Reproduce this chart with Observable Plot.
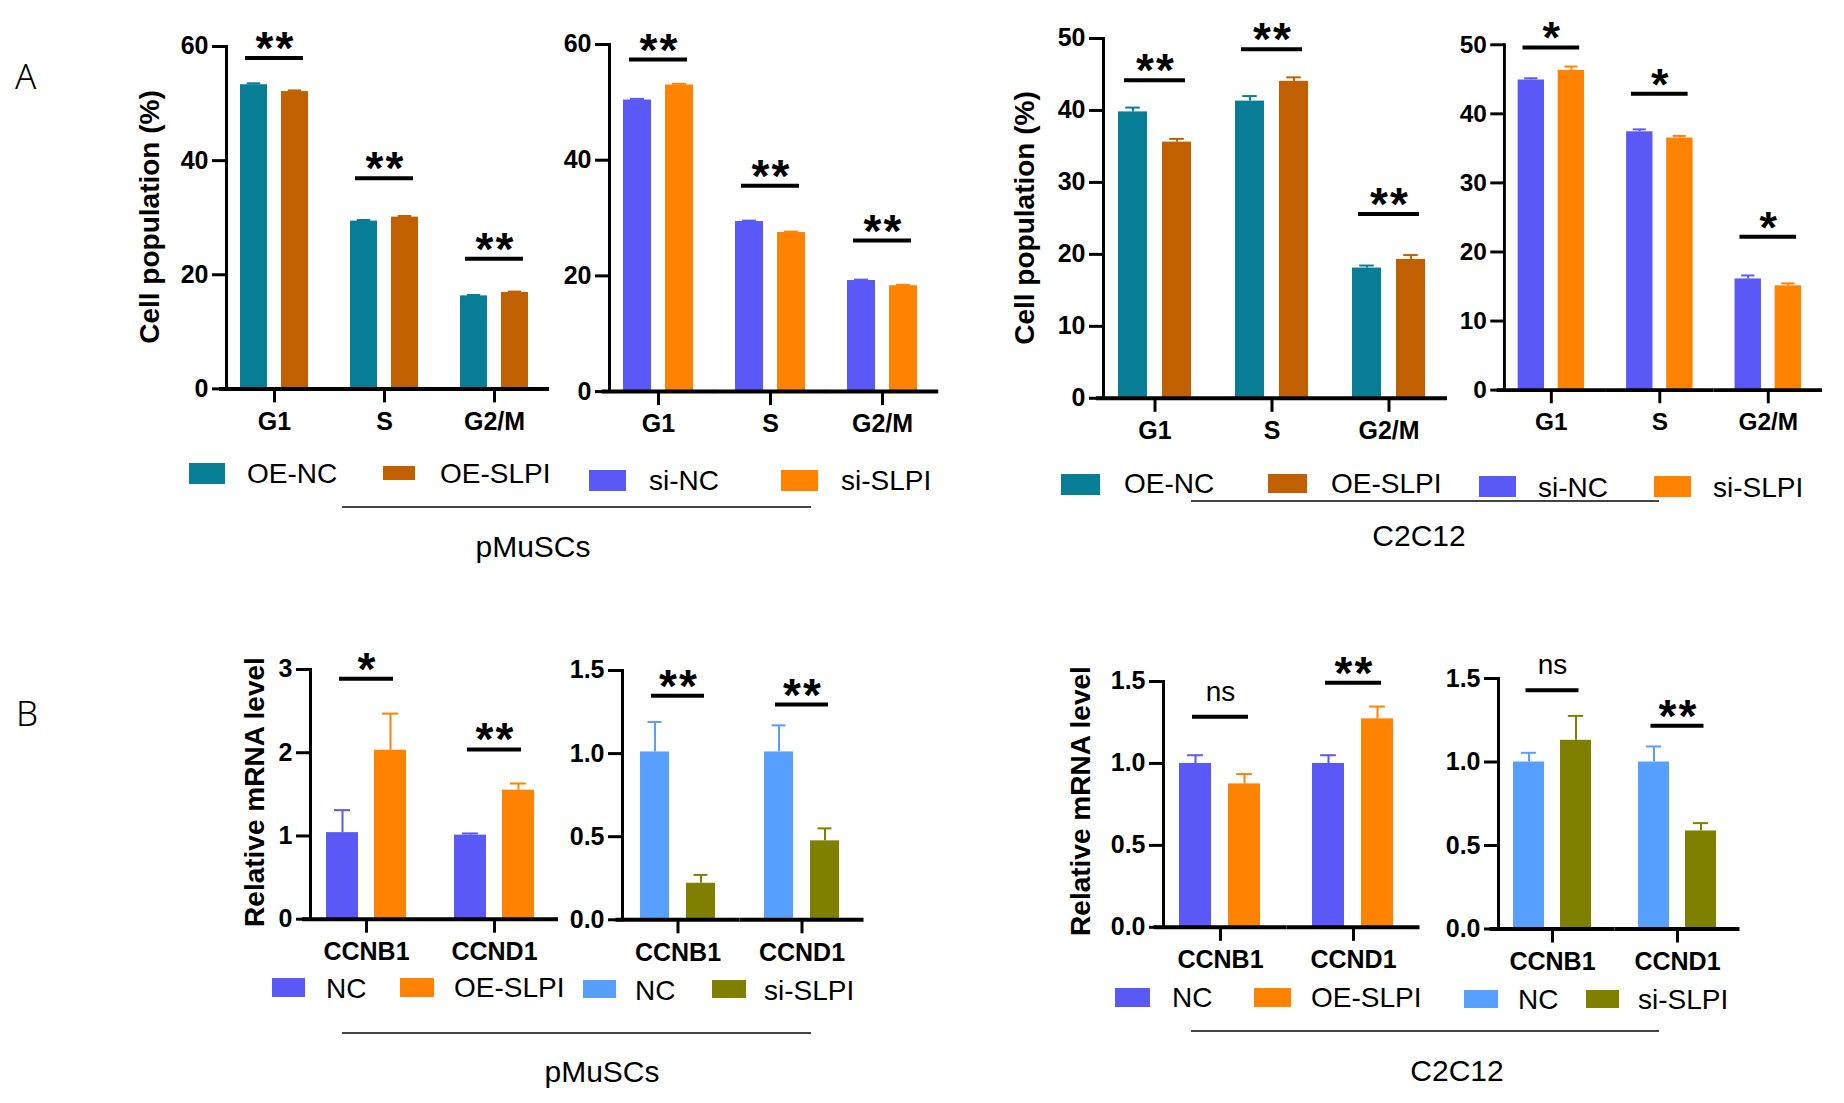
<!DOCTYPE html>
<html><head><meta charset="utf-8">
<script src="https://cdn.jsdelivr.net/npm/d3@7"></script>
<script src="https://cdn.jsdelivr.net/npm/@observablehq/plot@0.6"></script>
<style>
html,body{margin:0;padding:0;background:#fff;}
#fig{position:relative;width:1844px;height:1103px;overflow:hidden;background:#fff;font-family:"Liberation Sans",Arial,sans-serif;color:#000;}
.panel{position:absolute;}
.panel svg{overflow:visible;}
.panel svg g[aria-label="y-axis tick"] path,
.panel svg g[aria-label="fx-axis tick"] path{stroke-width:3px;}
.panel svg g[font-size="46"] text{letter-spacing:2px;}
.ylab{position:absolute;font-weight:bold;font-size:28px;white-space:nowrap;transform:translate(-50%,-50%) rotate(-90deg);}
.sw{position:absolute;}
.lt{position:absolute;font-size:28px;white-space:nowrap;transform:translateY(-50%);line-height:1;}
.ul{position:absolute;height:1.5px;background:#444;}
.grp{position:absolute;font-size:30px;transform:translate(-50%,-50%);white-space:nowrap;line-height:1;}
.letter{position:absolute;font-family:"Noto Sans","Open Sans",sans-serif;font-weight:300;font-size:35px;line-height:1;}
</style></head>
<body><div id="fig"></div>
<script>
// ---------- categories ----------
const phases = ["G1", "S", "G2/M"];
const genes = ["CCNB1", "CCND1"];
const oeGroups = ["OE-NC", "OE-SLPI"];
const siGroups = ["si-NC", "si-SLPI"];
const qOeGroups = ["NC", "OE-SLPI"];
const qSiGroups = ["NC", "si-SLPI"];

// ---------- A: cell population (%) ----------
// pMuSCs, overexpression
const a1NC = [53.3, 29.4, 16.3];
const a1NCErr = [0.25, 0.2, 0.15];
const a1SLPI = [52.1, 30.1, 16.9];
const a1SLPIErr = [0.2, 0.2, 0.15];
const a1SigY = [58.0, 36.9, 22.8];
const a1Sig = ["**", "**", "**"];
// pMuSCs, knockdown
const a2NC = [50.4, 29.4, 19.2];
const a2NCErr = [0.2, 0.15, 0.15];
const a2SLPI = [53.0, 27.5, 18.3];
const a2SLPIErr = [0.2, 0.15, 0.15];
const a2SigY = [57.4, 35.6, 26.1];
const a2Sig = ["**", "**", "**"];
// C2C12, overexpression
const a3NC = [39.8, 41.3, 18.1];
const a3NCErr = [0.6, 0.7, 0.35];
const a3SLPI = [35.6, 44.05, 19.3];
const a3SLPIErr = [0.45, 0.55, 0.6];
const a3SigY = [44.2, 48.5, 25.6];
const a3Sig = ["**", "**", "**"];
// C2C12, knockdown
const a4NC = [44.9, 37.4, 16.1];
const a4NCErr = [0.25, 0.35, 0.5];
const a4SLPI = [46.3, 36.5, 15.1];
const a4SLPIErr = [0.55, 0.3, 0.35];
const a4SigY = [49.6, 42.9, 22.2];
const a4Sig = ["*", "*", "*"];

// ---------- B: relative mRNA level ----------
const b1NC = [1.04, 1.01];
const b1NCErr = [0.27, 0.02];
const b1SLPI = [2.03, 1.55];
const b1SLPIErr = [0.44, 0.08];
const b1SigY = [2.89, 2.04];
const b1Sig = ["*", "**"];

const b2NC = [1.01, 1.01];
const b2NCErr = [0.18, 0.16];
const b2SLPI = [0.22, 0.475];
const b2SLPIErr = [0.05, 0.075];
const b2SigY = [1.348, 1.295];
const b2Sig = ["**", "**"];

const b3NC = [1.0, 1.0];
const b3NCErr = [0.05, 0.05];
const b3SLPI = [0.875, 1.272];
const b3SLPIErr = [0.06, 0.075];
const b3SigY = [1.285, 1.493];
const b3Sig = ["ns", "**"];

const b4NC = [1.0, 1.0];
const b4NCErr = [0.055, 0.093];
const b4SLPI = [1.13, 0.587];
const b4SLPIErr = [0.146, 0.047];
const b4SigY = [1.43, 1.217];
const b4Sig = ["ns", "**"];

// ---------- tick labels ----------
const ticksA12 = [0, 20, 40, 60];
const ticksA34 = [0, 10, 20, 30, 40, 50];
const ticksB1 = [0, 1, 2, 3];
const ticksB234 = [0, 0.5, 1.0, 1.5];

// ---------- colours ----------
const cTeal = "#077E96", cBrown = "#C06000", cBlue = "#5A58F6",
      cOrange = "#FF8200", cLight = "#57A0FF", cOlive = "#808000";

const fig = document.getElementById("fig");

function panel(p) {
  const mL = 90, mR = 30, mT = 75, mB = 70;
  const n = p.cats.length;
  const inner = (n - 1) * p.step + p.w;
  const width = mL + inner + mR;
  const height = mT + (p.y0 - p.yTop) + mB;
  const gap = p.step - p.w;
  const pi = 1 - p.bw / p.d;
  const po = (p.w / p.d - 2 + pi) / 2;
  const data = [];
  p.groups.forEach((g, gi) => p.cats.forEach((c, ci) =>
    data.push({cat: c, group: g, value: p.values[gi][ci], err: p.errs[gi][ci]})));
  const sig = p.cats.map((c, i) => ({cat: c, y: p.sigY[i], label: p.sig[i]}));
  const chart = Plot.plot({
    width, height, marginLeft: mL, marginRight: mR, marginTop: mT, marginBottom: mB,
    style: {background: "transparent", overflow: "visible", fontFamily: "Liberation Sans, Arial, sans-serif", color: "#000"},
    fx: {domain: p.cats, paddingInner: gap / p.step, paddingOuter: 0, label: null, axis: null},
    x: {domain: p.groups, paddingInner: pi, paddingOuter: po, axis: null},
    y: {domain: p.yDomain, axis: null},
    color: {domain: p.groups, range: p.colors},
    marks: [
      Plot.barY(data, {fx: "cat", x: "group", y: "value", fill: "group"}),
      Plot.ruleX(data, {fx: "cat", x: "group", y1: "value", y2: d => d.value + d.err, stroke: "group", strokeWidth: 2}),
      Plot.tickY(data, {fx: "cat", x: "group", y: d => d.value + d.err, stroke: "group", strokeWidth: 2, insetLeft: p.bw / 4, insetRight: p.bw / 4}),
      Plot.ruleY(sig, {fx: "cat", y: "y", strokeWidth: 4, insetLeft: (p.w - p.sigW) / 2, insetRight: (p.w - p.sigW) / 2}),
      Plot.text(sig.filter(s => s.label !== "ns"), {fx: "cat", y: "y", text: "label", fontSize: 46, fontWeight: "bold", lineAnchor: "bottom", dy: 6, dx: 1}),
      Plot.text(sig.filter(s => s.label === "ns"), {fx: "cat", y: "y", text: "label", fontSize: 28, lineAnchor: "bottom", dy: -16}),
      Plot.ruleY([p.yDomain[0]], {strokeWidth: 4, insetLeft: -gap / 2, insetRight: -gap / 2}),
      Plot.frame({anchor: "left", facetAnchor: "left", strokeWidth: 3}),
      Plot.axisY({ticks: p.ticks, tickFormat: p.fmt, tickSize: 14, tickPadding: 4, fontSize: 25, fontWeight: "bold", strokeWidth: 3, label: null}),
      Plot.axisFx({anchor: "bottom", tickSize: 14, tickPadding: 9, fontSize: 25, fontWeight: "bold", strokeWidth: 3, label: null})
    ]
  });
  const div = document.createElement("div");
  div.className = "panel";
  div.style.left = (p.x0 - mL) + "px";
  div.style.top = (p.yTop - mT) + "px";
  div.appendChild(chart);
  fig.appendChild(div);
}

const fmtInt = d3.format("d"), fmt1 = d3.format(".1f");

panel({cats: phases, groups: oeGroups, colors: [cTeal, cBrown], values: [a1NC, a1SLPI], errs: [a1NCErr, a1SLPIErr],
  sigY: a1SigY, sig: a1Sig, yDomain: [0, 60], ticks: ticksA12, fmt: fmtInt,
  x0: 226, yTop: 45.6, y0: 388, step: 110, w: 96, d: 41, bw: 27, sigW: 58});
panel({cats: phases, groups: siGroups, colors: [cBlue, cOrange], values: [a2NC, a2SLPI], errs: [a2NCErr, a2SLPIErr],
  sigY: a2SigY, sig: a2Sig, yDomain: [0, 60], ticks: ticksA12, fmt: fmtInt,
  x0: 608, yTop: 43.9, y0: 391, step: 112.5, w: 98, d: 42, bw: 28, sigW: 58});
panel({cats: phases, groups: oeGroups, colors: [cTeal, cBrown], values: [a3NC, a3SLPI], errs: [a3NCErr, a3SLPIErr],
  sigY: a3SigY, sig: a3Sig, yDomain: [0, 50], ticks: ticksA34, fmt: fmtInt,
  x0: 1102.5, yTop: 37.9, y0: 397.7, step: 117, w: 103, d: 44, bw: 29, sigW: 61});
panel({cats: phases, groups: siGroups, colors: [cBlue, cOrange], values: [a4NC, a4SLPI], errs: [a4NCErr, a4SLPIErr],
  sigY: a4SigY, sig: a4Sig, yDomain: [0, 50], ticks: ticksA34, fmt: fmtInt,
  x0: 1506, yTop: 45.6, y0: 399, step: 111, w: 96, d: 41, bw: 27, sigW: 58});

panel({cats: genes, groups: qOeGroups, colors: [cBlue, cOrange], values: [b1NC, b1SLPI], errs: [b1NCErr, b1SLPIErr],
  sigY: b1SigY, sig: b1Sig, yDomain: [0, 3], ticks: ticksB1, fmt: fmtInt,
  x0: 310, yTop: 668.9, y0: 918.6, step: 128, w: 112, d: 48, bw: 32, sigW: 54});
panel({cats: genes, groups: qSiGroups, colors: [cLight, cOlive], values: [b2NC, b2SLPI], errs: [b2NCErr, b2SLPIErr],
  sigY: b2SigY, sig: b2Sig, yDomain: [0, 1.5], ticks: ticksB234, fmt: fmt1,
  x0: 621.5, yTop: 670, y0: 919.3, step: 124, w: 111, d: 47, bw: 30, sigW: 53});
panel({cats: genes, groups: qOeGroups, colors: [cBlue, cOrange], values: [b3NC, b3SLPI], errs: [b3NCErr, b3SLPIErr],
  sigY: b3SigY, sig: b3Sig, yDomain: [0, 1.5], ticks: ticksB234, fmt: fmt1,
  x0: 1163, yTop: 680.5, y0: 926.3, step: 133, w: 114, d: 49.7, bw: 32.5, sigW: 56});
panel({cats: genes, groups: qSiGroups, colors: [cLight, cOlive], values: [b4NC, b4SLPI], errs: [b4NCErr, b4SLPIErr],
  sigY: b4SigY, sig: b4Sig, yDomain: [0, 1.5], ticks: ticksB234, fmt: fmt1,
  x0: 1498, yTop: 678, y0: 928.5, step: 125, w: 108, d: 47.5, bw: 31.5, sigW: 53});

// ---------- text decorations ----------
function el(cls, text, style) {
  const e = document.createElement("div");
  e.className = cls;
  if (text != null) e.textContent = text;
  Object.assign(e.style, style);
  fig.appendChild(e);
  return e;
}
// y axis titles
el("ylab", "Cell population (%)", {left: "150px", top: "217px"});
el("ylab", "Cell population (%)", {left: "1025px", top: "218px"});
el("ylab", "Relative mRNA level", {left: "255px", top: "792px"});
el("ylab", "Relative mRNA level", {left: "1081px", top: "801px"});
// panel letters
el("letter", "A", {left: "15px", top: "58px"});
el("letter", "B", {left: "16px", top: "695px"});

// legends: [label, colour, swatch x1, x2, y1, y2, text x, text centre y]
const legendLayout = [
  [oeGroups[0], cTeal, 189, 225, 463, 484, 247, 474],
  [oeGroups[1], cBrown, 383, 415, 466, 480, 440, 474],
  [siGroups[0], cBlue, 589, 626, 470, 491, 649, 481],
  [siGroups[1], cOrange, 781, 818, 470, 491, 841, 481],
  [oeGroups[0], cTeal, 1061, 1100, 474, 495, 1124, 484],
  [oeGroups[1], cBrown, 1268, 1307, 474, 493, 1331, 484],
  [siGroups[0], cBlue, 1479, 1516, 476, 497, 1538, 488],
  [siGroups[1], cOrange, 1654, 1691, 476, 497, 1713, 488],
  [qOeGroups[0], cBlue, 272, 305, 978, 997, 326, 989],
  [qOeGroups[1], cOrange, 400, 434, 978, 997, 454, 988],
  [qSiGroups[0], cLight, 583, 616, 980, 998, 635, 991],
  [qSiGroups[1], cOlive, 712, 746, 980, 998, 764, 991],
  [qOeGroups[0], cBlue, 1115, 1150, 988, 1007, 1172, 998],
  [qOeGroups[1], cOrange, 1254, 1291, 988, 1007, 1311, 998],
  [qSiGroups[0], cLight, 1464, 1498, 990, 1008, 1518, 1000],
  [qSiGroups[1], cOlive, 1586, 1619, 990, 1008, 1638, 1000]
];
legendLayout.forEach(([label, color, x1, x2, y1, y2, tx, ty]) => {
  el("sw", null, {left: x1 + "px", top: y1 + "px", width: (x2 - x1) + "px", height: (y2 - y1) + "px", background: color});
  el("lt", label, {left: tx + "px", top: ty + "px"});
});
// group underlines and names
el("ul", null, {left: "342px", top: "506px", width: "469px"});
el("ul", null, {left: "1191px", top: "500px", width: "468px"});
el("ul", null, {left: "342px", top: "1032px", width: "469px"});
el("ul", null, {left: "1191px", top: "1030px", width: "468px"});
el("grp", "pMuSCs", {left: "533px", top: "547px"});
el("grp", "C2C12", {left: "1419px", top: "536px"});
el("grp", "pMuSCs", {left: "602px", top: "1072px"});
el("grp", "C2C12", {left: "1457px", top: "1071px"});
</script>
</body></html>
